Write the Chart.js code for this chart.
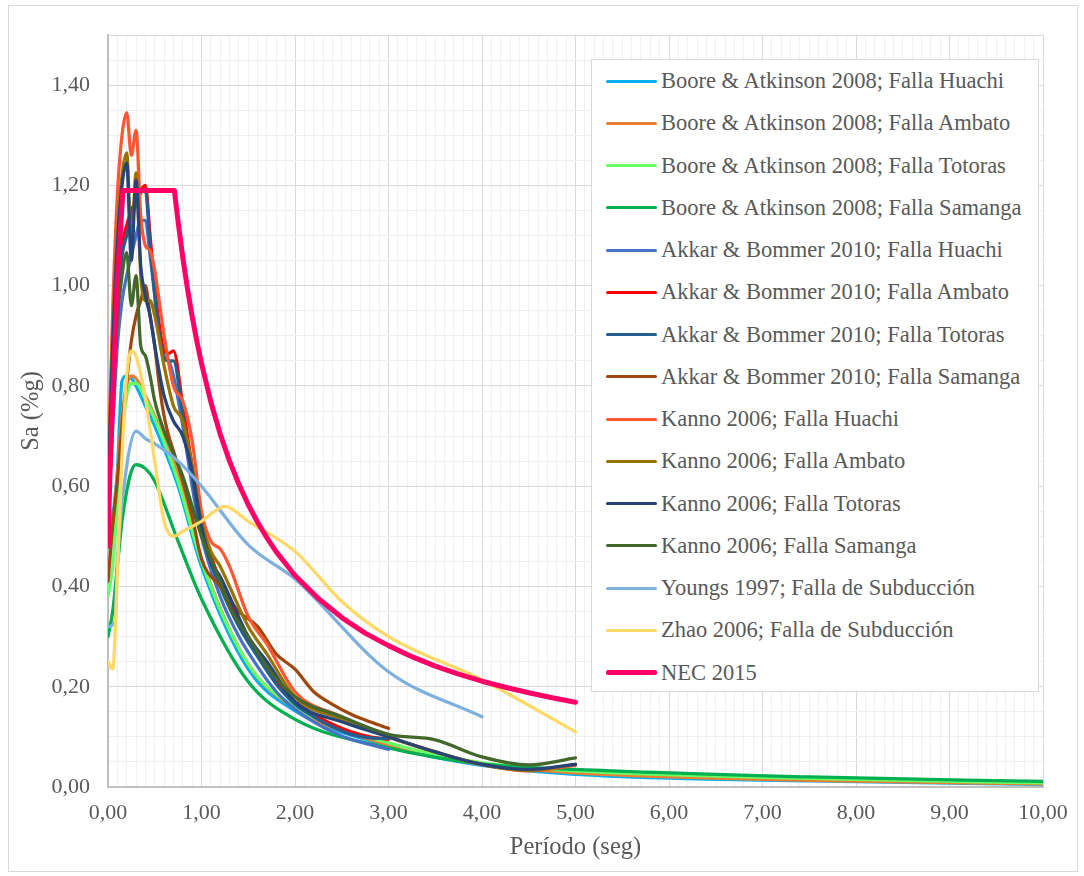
<!DOCTYPE html>
<html lang="es">
<head>
<meta charset="utf-8">
<title>Espectros de respuesta - Sa vs Período</title>
<script src="https://cdn.jsdelivr.net/npm/chart.js@4.4.1/dist/chart.umd.min.js"></script>
<style>
    html, body { margin: 0; padding: 0; background: #FFFFFF; }
    .wrap { position: relative; width: 1084px; height: 876px; overflow: hidden; }
    .frame {
        position: absolute; left: 8px; top: 5px;
        width: 1068px; height: 865px;
        border: 1px solid #D9D9D9;
    }
    #chart { position: absolute; left: 0; top: 0; }
    .legend {
        position: absolute; left: 591px; top: 59px;
        width: 448px; height: 633px; box-sizing: border-box;
        background: #FFFFFF; border: 1px solid #D9D9D9;
        font-family: 'Liberation Serif', 'Times New Roman', serif;
        font-size: 22.5px; color: #595959;
    }
    .legend-item {
        position: absolute; left: 14px; height: 30px;
        display: flex; align-items: center; white-space: nowrap;
    }
    .legend-line { width: 51px; margin-right: 4px; border-radius: 2px; }
</style>
</head>
<body>
<div class="wrap">
    <div class="frame"></div>
    <canvas id="chart" width="1084" height="876"></canvas>
    <div class="legend" id="legend"></div>
</div>
<script>
// Períodos (seg) de cada modelo
const T_BA = [0, 0.05, 0.1, 0.15, 0.2, 0.25, 0.3, 0.4, 0.5, 0.75, 1.0, 1.5, 2.0, 3.0, 4.0, 5.0, 7.5, 10.0];
const T_AB = [0, 0.05, 0.1, 0.15, 0.2, 0.25, 0.3, 0.35, 0.4, 0.45, 0.5, 0.55, 0.6, 0.65, 0.7, 0.8, 0.9, 1.0, 1.2, 1.4, 1.6, 1.8, 2.0, 2.2, 2.4, 2.6, 2.8, 3.0];
const T_KANNO = [0, 0.05, 0.1, 0.15, 0.2, 0.25, 0.3, 0.35, 0.4, 0.45, 0.5, 0.6, 0.7, 0.8, 0.9, 1.0, 1.1, 1.2, 1.3, 1.5, 1.7, 2.0, 2.5, 3.0, 3.5, 4.0, 4.5, 5.0];
const T_YOUNGS = [0, 0.075, 0.1, 0.2, 0.3, 0.4, 0.5, 0.75, 1.0, 1.5, 2.0, 3.0, 4.0];
const T_ZHAO = [0, 0.05, 0.1, 0.15, 0.2, 0.25, 0.3, 0.4, 0.5, 0.6, 0.7, 0.8, 1.0, 1.25, 1.5, 2.0, 2.5, 3.0, 4.0, 5.0];
const T_NEC = [0, 0.02, 0.1, 0.16, 0.71, 0.75, 0.8, 0.85, 0.9, 0.95, 1.0, 1.1, 1.2, 1.3, 1.4, 1.5, 1.6, 1.7, 1.8, 2.0, 2.25, 2.5, 2.75, 3.0, 3.25, 3.5, 3.75, 4.0, 4.25, 4.5, 4.75, 5.0];

// Sa (%g) - Boore & Atkinson 2008
const baHuachi  = [0.50, 0.54, 0.63, 0.81, 0.82, 0.815, 0.80, 0.76, 0.72, 0.60, 0.44, 0.235, 0.152, 0.082, 0.043, 0.025, 0.012, 0.005];
const baAmbato  = [0.48, 0.52, 0.62, 0.74, 0.80, 0.82, 0.815, 0.78, 0.74, 0.62, 0.455, 0.245, 0.157, 0.084, 0.045, 0.028, 0.013, 0.006];
const baTotoras = [0.38, 0.44, 0.56, 0.70, 0.78, 0.805, 0.805, 0.775, 0.735, 0.61, 0.45, 0.245, 0.16, 0.088, 0.048, 0.032, 0.017, 0.008];
const baSamanga = [0.30, 0.35, 0.44, 0.53, 0.59, 0.63, 0.643, 0.635, 0.61, 0.49, 0.375, 0.21, 0.135, 0.078, 0.046, 0.035, 0.020, 0.011];

// Akkar & Bommer 2010
const abHuachi  = [0.55, 0.72, 0.88, 0.97, 1.02, 1.06, 1.10, 1.13, 1.13, 1.06, 0.98, 0.90, 0.86, 0.85, 0.82, 0.72, 0.60, 0.50, 0.38, 0.30, 0.24, 0.19, 0.155, 0.13, 0.11, 0.095, 0.085, 0.075];
const abAmbato  = [0.60, 0.80, 0.98, 1.08, 1.12, 1.15, 1.17, 1.19, 1.20, 1.10, 1.00, 0.92, 0.87, 0.865, 0.87, 0.76, 0.64, 0.53, 0.41, 0.33, 0.27, 0.21, 0.17, 0.145, 0.125, 0.11, 0.10, 0.095];
const abTotoras = [0.58, 0.78, 0.96, 1.06, 1.10, 1.14, 1.16, 1.185, 1.19, 1.08, 0.98, 0.90, 0.855, 0.85, 0.85, 0.74, 0.62, 0.51, 0.40, 0.32, 0.26, 0.205, 0.165, 0.14, 0.12, 0.105, 0.098, 0.097];
const abSamanga = [0.41, 0.52, 0.61, 0.72, 0.81, 0.89, 0.94, 0.97, 1.00, 0.94, 0.88, 0.80, 0.74, 0.70, 0.67, 0.61, 0.54, 0.455, 0.40, 0.35, 0.32, 0.265, 0.235, 0.19, 0.165, 0.145, 0.13, 0.117];

// Kanno 2006
const kaHuachi  = [0.62, 0.95, 1.18, 1.30, 1.345, 1.26, 1.31, 1.14, 1.08, 1.07, 1.03, 0.90, 0.80, 0.77, 0.69, 0.55, 0.49, 0.475, 0.44, 0.34, 0.285, 0.19, 0.14, 0.10, 0.07, 0.045, 0.032, 0.043];
const kaAmbato  = [0.60, 0.90, 1.10, 1.22, 1.265, 1.08, 1.225, 1.02, 0.97, 0.97, 0.94, 0.84, 0.76, 0.73, 0.64, 0.53, 0.47, 0.44, 0.40, 0.32, 0.265, 0.18, 0.135, 0.10, 0.07, 0.045, 0.033, 0.045];
const kaTotoras = [0.58, 0.88, 1.08, 1.20, 1.245, 1.05, 1.21, 1.04, 0.98, 0.94, 0.88, 0.78, 0.73, 0.70, 0.63, 0.52, 0.45, 0.42, 0.38, 0.30, 0.25, 0.17, 0.13, 0.10, 0.07, 0.045, 0.035, 0.045];
const kaSamanga = [0.50, 0.75, 0.93, 1.02, 1.066, 0.96, 1.02, 0.88, 0.86, 0.82, 0.77, 0.71, 0.665, 0.62, 0.56, 0.50, 0.455, 0.41, 0.36, 0.30, 0.24, 0.18, 0.14, 0.105, 0.094, 0.06, 0.044, 0.058];

// Subducción y norma
const youngsSa = [0.32, 0.33, 0.45, 0.64, 0.71, 0.695, 0.685, 0.65, 0.60, 0.483, 0.415, 0.23, 0.14];
const zhaoSa   = [0.25, 0.235, 0.42, 0.66, 0.82, 0.87, 0.86, 0.775, 0.65, 0.53, 0.50, 0.51, 0.53, 0.56, 0.53, 0.47, 0.37, 0.30, 0.214, 0.11];
const necSa    = [0.48, 0.62, 1.01, 1.19, 1.19, 1.127, 1.056, 0.994, 0.939, 0.889, 0.845, 0.768, 0.704, 0.65, 0.604, 0.563, 0.528, 0.497, 0.469, 0.422, 0.376, 0.338, 0.307, 0.282, 0.26, 0.241, 0.225, 0.211, 0.199, 0.188, 0.178, 0.169];

const seriesNames = [
    'Boore & Atkinson 2008; Falla Huachi',
    'Boore & Atkinson 2008; Falla Ambato',
    'Boore & Atkinson 2008; Falla Totoras',
    'Boore & Atkinson 2008; Falla Samanga',
    'Akkar & Bommer 2010; Falla Huachi',
    'Akkar & Bommer 2010; Falla Ambato',
    'Akkar & Bommer 2010; Falla Totoras',
    'Akkar & Bommer 2010; Falla Samanga',
    'Kanno 2006; Falla Huachi',
    'Kanno 2006; Falla Ambato',
    'Kanno 2006; Falla Totoras',
    'Kanno 2006; Falla Samanga',
    'Youngs 1997; Falla de Subducción',
    'Zhao 2006; Falla de Subducción',
    'NEC 2015'
];
const seriesColors = [
    '#00B0F0', '#ED7D31', '#66FF66', '#00B050',
    '#4472C4', '#FF0000', '#255E91', '#9E480E',
    '#FF5733', '#997300', '#264478', '#43682B',
    '#7EB0DE', '#FFD966', '#FF0066'
];
const seriesData = [
    [T_BA, baHuachi], [T_BA, baAmbato], [T_BA, baTotoras], [T_BA, baSamanga],
    [T_AB, abHuachi], [T_AB, abAmbato], [T_AB, abTotoras], [T_AB, abSamanga],
    [T_KANNO, kaHuachi], [T_KANNO, kaAmbato], [T_KANNO, kaTotoras], [T_KANNO, kaSamanga],
    [T_YOUNGS, youngsSa], [T_ZHAO, zhaoSa], [T_NEC, necSa]
];

const FONT = "'Liberation Serif', 'Times New Roman', serif";
const TEXT = '#595959';
const NEC_IDX = seriesNames.length - 1;

const isMult = (v, step) => Math.abs(v / step - Math.round(v / step)) < 1e-6;
const fmt = v => v.toFixed(2).replace('.', ',');

const datasets = seriesData.map(([t, v], i) => ({
    label: seriesNames[i],
    data: t.map((x, k) => ({ x: x, y: v[k] })),
    borderColor: seriesColors[i],
    backgroundColor: seriesColors[i],
    borderWidth: i === NEC_IDX ? 5 : 3.25,
    pointRadius: 0,
    cubicInterpolationMode: i === NEC_IDX ? 'default' : 'monotone',
    tension: 0,
    borderJoinStyle: 'round',
    borderCapStyle: 'round',
    // Excel dibuja la última serie encima
    order: seriesNames.length - i
}));

new Chart(document.getElementById('chart'), {
    type: 'line',
    data: { datasets: datasets },
    options: {
        responsive: false,
        animation: false,
        devicePixelRatio: 1,
        layout: { padding: { left: 0, top: 35, right: 41, bottom: 0 } },
        plugins: { legend: { display: false }, tooltip: { enabled: false } },
        scales: {
            x: {
                type: 'linear', min: 0, max: 10,
                ticks: {
                    stepSize: 0.1, autoSkip: false, maxRotation: 0, minRotation: 0,
                    padding: 13, color: TEXT, font: { family: FONT, size: 22 },
                    callback: v => isMult(v, 1) ? fmt(v) : ''
                },
                grid: {
                    drawTicks: false, lineWidth: 1,
                    color: ctx => isMult(ctx.tick.value, 1) ? '#D9D9D9' : '#F0F0F0'
                },
                border: { color: '#BFBFBF', width: 2 },
                title: {
                    display: true, text: 'Período (seg)', color: TEXT,
                    font: { family: FONT, size: 24.5 }, padding: { bottom: 14 }
                },
                afterFit: s => { s.height = 89; }
            },
            y: {
                type: 'linear', min: 0, max: 1.5,
                ticks: {
                    stepSize: 0.05, autoSkip: false,
                    padding: 18, color: TEXT, font: { family: FONT, size: 22 },
                    callback: v => isMult(v, 0.2) ? fmt(v) : ''
                },
                grid: {
                    drawTicks: false, lineWidth: 1,
                    color: ctx => (isMult(ctx.tick.value, 0.2) || ctx.tick.value >= 1.5) ? '#D9D9D9' : '#F0F0F0'
                },
                border: { color: '#BFBFBF', width: 2 },
                title: {
                    display: true, text: 'Sa (%g)', color: TEXT,
                    font: { family: FONT, size: 24.5 }, padding: { top: 17 }
                },
                afterFit: s => { s.width = 108; }
            }
        }
    }
});

// Leyenda dentro del área de trazado, como en Excel
const legendEl = document.getElementById('legend');
legendEl.innerHTML = seriesNames.map((name, i) => {
    const top = 21 + i * 42.26 - 15;
    const h = i === NEC_IDX ? 4.5 : 3;
    return `<div class="legend-item" style="top:${top}px">
        <span class="legend-line" style="height:${h}px;background:${seriesColors[i]}"></span>${name}
    </div>`;
}).join('');
</script>
</body>
</html>
